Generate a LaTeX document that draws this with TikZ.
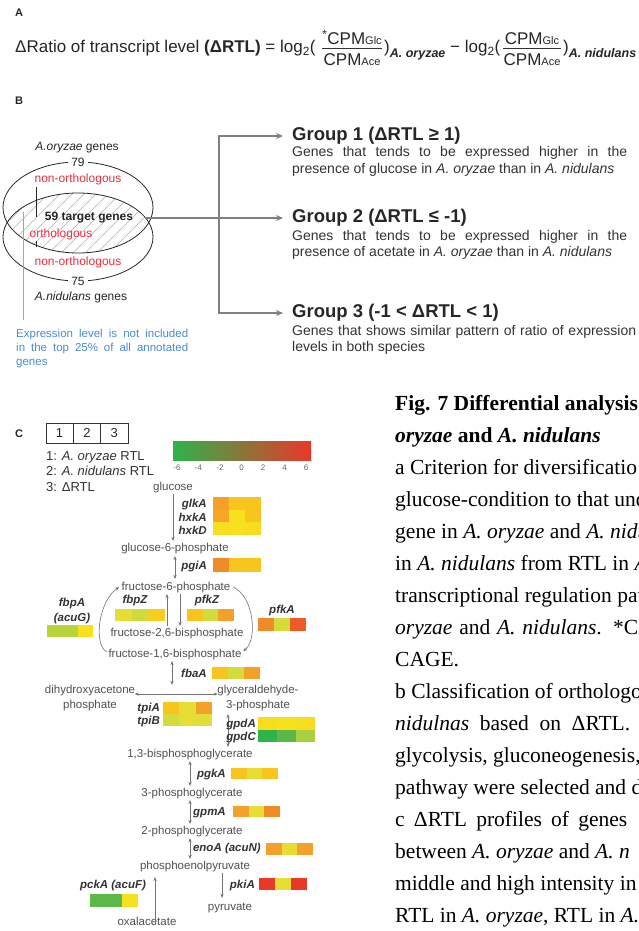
\documentclass[tikz,border=0pt]{standalone}
\usepackage{fontspec}
\setmainfont{Liberation Sans}
\newfontfamily\capfont{Liberation Serif}
\usetikzlibrary{arrows.meta,calc}
\newcommand{\fsz}[1]{\fontsize{#1}{#1}\selectfont}
\definecolor{hG}{HTML}{2DB34A}
\definecolor{hGa}{HTML}{5CB848}
\definecolor{hGb}{HTML}{A8D040}
\definecolor{hYG}{HTML}{B8D43A}
\definecolor{hYGb}{HTML}{D2DC3A}
\definecolor{hLY}{HTML}{E6DE34}
\definecolor{hY}{HTML}{F7E11E}
\definecolor{hYO}{HTML}{F8C41E}
\definecolor{hO}{HTML}{F5A02A}
\definecolor{hOb}{HTML}{F18A28}
\definecolor{hOR}{HTML}{EE5A28}
\definecolor{hR}{HTML}{E8382A}
\definecolor{txtred}{HTML}{E8303A}
\definecolor{txtblue}{HTML}{4A8CCB}
\definecolor{pathgray}{HTML}{505050}
\newcommand{\hmrow}[7]{%
  \fill[#5] (#1,#2) rectangle ++({#3/3},#4);
  \fill[#6] ({#1+#3/3},#2) rectangle ++({#3/3},#4);
  \fill[#7] ({#1+2*#3/3},#2) rectangle ++({#3/3},#4);}
\tikzset{
  lbl/.style={font=\fsz{11}\bfseries, text=black!85},
  frm/.style={font=\fsz{17}, text=black!85},
  venn/.style={font=\fsz{12}, text=black!85},
  vred/.style={font=\fsz{12}, text=txtred},
  ghead/.style={font=\fsz{18.5}\bfseries, text=black!85, anchor=west},
  gdesc/.style={font=\fsz{14}, text=black!80, anchor=base west},
  gline/.style={draw=black!50, line width=1.8pt},
  garrow/.style={draw=black!50, line width=1.8pt, -{Stealth[length=7pt,width=6pt]}},
  pathtxt/.style={font=\fsz{11.5}, text=pathgray, inner sep=1.5pt},
  gene/.style={font=\fsz{11.5}\bfseries\itshape, text=black!80, anchor=base east},
  pa/.style={draw=black!55, line width=0.6pt, -{Stealth[length=4pt,width=3.2pt]}},
  pab/.style={draw=black!55, line width=0.6pt, {Stealth[length=4pt,width=3.2pt]}-{Stealth[length=4pt,width=3.2pt]}},
  captxt/.style={font=\capfont\fsz{21.5}, text=black, anchor=base west},
  every node/.append style={inner sep=0pt}
}
\begin{document}
\begin{tikzpicture}[x=1pt,y=-1pt]
\useasboundingbox (0,0) rectangle (638,931);
\clip (0,0) rectangle (638,931);
\fill[white] (0,0) rectangle (638,931);

% ---------------- Panel A ----------------
\node[lbl, anchor=base west] (lA) at (15,17) {A};
\node[frm, anchor=base west] (fa) at (15,53) {ΔRatio of transcript level \textbf{(ΔRTL)} = log\textsubscript{2}(};
\node[frm, anchor=base] (n1) at (352,45) {\textsuperscript{*}CPM{\fsz{11}Glc}};
\node[frm, anchor=base] (d1) at (352,66) {CPM{\fsz{11}Ace}};
\draw[line width=0.7pt, black!80] (n1.south west |- 0,48.5) -- (n1.south east |- 0,48.5);
\node[frm, anchor=base west] (p1) at (384,53) {)\raisebox{-5pt}{\fsz{12.5}\bfseries\itshape A. oryzae}};
\node[frm, anchor=base west] (m1) at (450,53) {− log\textsubscript{2}(};
\node[frm, anchor=base] (n2) at (532,45) {CPM{\fsz{11}Glc}};
\node[frm, anchor=base] (d2) at (532,66) {CPM{\fsz{11}Ace}};
\draw[line width=0.7pt, black!80] (d2.south west |- 0,48.5) -- (d2.south east |- 0,48.5);
\node[frm, anchor=base west] (p2) at (563,53) {)\raisebox{-5pt}{\fsz{12.5}\bfseries\itshape A. nidulans}};

% ---------------- Panel B ----------------
\node[lbl, anchor=base west] (lB) at (15,105) {B};
\begin{scope}
  \clip (78,207.5) ellipse [x radius=75pt, y radius=45.5pt];
  \clip (78,237) ellipse [x radius=75pt, y radius=44pt];
  \foreach \k in {-120,-108,...,200} \draw[black!30, line width=0.5pt] (\k,290) -- ({\k+130},160);
\end{scope}
\draw[line width=0.8pt, black!85] (78,207.5) ellipse [x radius=75pt, y radius=45.5pt];
\draw[line width=0.8pt, black!85] (78,237) ellipse [x radius=75pt, y radius=44pt];
\node[venn, anchor=base] (aor) at (77,150) {\textit{A.oryzae} genes};
\node[venn, fill=white, inner xsep=3pt, inner ysep=1pt] (n79) at (78,162) {79};
\node[vred, anchor=base] (no1) at (78,182) {non-orthologous};
\node[venn, anchor=base, font=\fsz{12}\bfseries] (tg59) at (89,220) {59 target genes};
\node[vred, anchor=base] (orth) at (61,237) {orthologous};
\node[vred, anchor=base] (no2) at (78,265) {non-orthologous};
\node[venn, fill=white, inner xsep=3pt, inner ysep=1pt] (n75) at (78,281) {75};
\node[venn, anchor=base] (ani) at (81,300) {\textit{A.nidulans} genes};
\draw[line width=0.8pt, black!85] (36,187) -- (36,217);
\draw[line width=0.8pt, black!85] (36,241) -- (36,247);
\draw[line width=0.6pt, txtblue!70] (23,212) -- (23,320);
\node[anchor=base west, font=\fsz{11.5}, text=txtblue] (bl1) at (16,337) {\makebox[172pt][s]{Expression level is not included}};
\node[anchor=base west, font=\fsz{11.5}, text=txtblue] (bl2) at (16,351) {\makebox[172pt][s]{in the top 25\% of all annotated}};
\node[anchor=base west, font=\fsz{11.5}, text=txtblue] (bl3) at (16,365) {genes};

\node[ghead] (g1) at (292,136) {Group 1 (ΔRTL ≥ 1)};
\node[gdesc] (g1a) at (292,157) {\makebox[335pt][s]{Genes that tends to be expressed higher in the}};
\node[gdesc] (g1b) at (292,173) {presence of glucose in \textit{A. oryzae} than in \textit{A. nidulans}};
\node[ghead] (g2) at (292,218) {Group 2 (ΔRTL ≤ -1)};
\node[gdesc] (g2a) at (292,240) {\makebox[335pt][s]{Genes that tends to be expressed higher in the}};
\node[gdesc] (g2b) at (292,256) {presence of acetate in \textit{A. oryzae} than in \textit{A. nidulans}};
\node[ghead] (g3) at (292,313) {Group 3 (-1 < ΔRTL < 1)};
\node[gdesc] (g3a) at (292,335) {\makebox[344pt][s]{Genes that shows similar pattern of ratio of expression}};
\node[gdesc] (g3b) at (292,351) {levels in both species};

\coordinate (tg) at (145,218);
\coordinate (j1) at (219,136);
\coordinate (j2) at (219,218);
\coordinate (j3) at (219,313);
\draw[gline] (tg) -- (j2);
\draw[gline, line cap=rect] (j1) -- (j3);
\draw[garrow] (j1) -- ([xshift=-9pt]g1.west);
\draw[garrow] (j2) -- ([xshift=-9pt]g2.west);
\draw[garrow] (j3) -- ([xshift=-9pt]g3.west);

% ---------------- Panel C ----------------
\node[lbl, anchor=base west] (lC) at (15,437) {C};
\draw[line width=0.7pt, black!80] (46,423) rectangle (128,443);
\draw[line width=0.7pt, black!80] (73.3,423) -- (73.3,443);
\draw[line width=0.7pt, black!80] (100.6,423) -- (100.6,443);
\node[font=\fsz{13}, text=black!85] (c1) at (59.6,433) {1};
\node[font=\fsz{13}, text=black!85] (c2) at (87,433) {2};
\node[font=\fsz{13}, text=black!85] (c3) at (114.3,433) {3};
\node[anchor=base west, font=\fsz{13}, text=black!80] (lg1) at (46,460) {1: \textit{A. oryzae} RTL};
\node[anchor=base west, font=\fsz{13}, text=black!80] (lg2) at (46,475.5) {2: \textit{A. nidulans} RTL};
\node[anchor=base west, font=\fsz{13}, text=black!80] (lg3) at (46,491) {3: ΔRTL};

\shade[left color=hG, middle color=hY, right color=hR] (173,441) rectangle (311,460);
\foreach \v [count=\i from 0] in {-6,-4,-2,0,2,4,6}
  \node[font=\fsz{8}, text=black!60] (tick\i) at ({177+21.5*\i},467.5) {\v};

% pathway nodes
\node[pathtxt, anchor=base] (glc) at (173,490) {glucose};
\node[pathtxt, anchor=base] (g6p) at (175,551) {glucose-6-phosphate};
\node[pathtxt, anchor=base] (f6p) at (176,590) {fructose-6-phosphate};
\node[pathtxt, anchor=base] (f26) at (177,636) {fructose-2,6-bisphosphate};
\node[pathtxt, anchor=base] (f16) at (175,657) {fructose-1,6-bisphosphate};
\node[pathtxt, anchor=base, align=center] (dhap) at (90,708) {dihydroxyacetone\\[3.5pt]phosphate};
\node[pathtxt, anchor=base, align=center] (gap) at (258,708) {glyceraldehyde-\\[3.5pt]3-phosphate};
\node[pathtxt, anchor=base] (bpg) at (190,757) {1,3-bisphosphoglycerate};
\node[pathtxt, anchor=base] (pg3) at (192,796) {3-phosphoglycerate};
\node[pathtxt, anchor=base] (pg2) at (192,834) {2-phosphoglycerate};
\node[pathtxt, anchor=base] (pep) at (195,869) {phosphoenolpyruvate};
\node[pathtxt, anchor=base] (pyr) at (230,910) {pyruvate};
\node[pathtxt, anchor=base] (oaa) at (147,925) {oxalacetate};

% arrows
\draw[pa] (glc.south) -- (glc.south |- g6p.north);
\draw[pab] ([yshift=-1pt]g6p.south) -- ([yshift=1pt]g6p.south |- f6p.north);
\draw[pa] ([xshift=4pt]f6p.south) -- ([xshift=4pt]f6p.south |- f26.north);
\draw[pa] ([xshift=-10pt]f26.north) -- ([xshift=-10pt]f26.north |- f6p.south);
\draw[pa] ([yshift=2pt]f16.west) .. controls +(-14,-8) and +(-20,14) .. ([xshift=-1pt]f6p.west);
\draw[pa] ([xshift=1pt]f6p.east) .. controls +(22,10) and +(14,-10) .. ([yshift=3pt]f16.east);
\draw[pab] ([xshift=-3pt]f16.south) -- ([xshift=-3pt, yshift=-2pt]f16.south |- dhap.north);
\draw[pab] ([xshift=-2pt]dhap.north east |- 0,694) -- ([xshift=2pt]gap.north west |- 0,694);
\draw[pab] ([xshift=-30pt,yshift=-2pt]gap.south) -- ([xshift=-30pt]gap.south |- bpg.north);
\draw[pab] (bpg.south) -- (bpg.south |- pg3.north);
\draw[pab] ([xshift=-2pt]pg3.south) -- ([xshift=-2pt]pg3.south |- pg2.north);
\draw[pab] ([xshift=-2pt]pg2.south) -- ([xshift=-2pt]pg2.south |- pep.north);
\draw[pa] ([xshift=27pt]pep.south) -- ([xshift=27pt, yshift=3pt]pep.south |- pyr.north);
\draw[pa] ([xshift=8pt,yshift=-10pt]oaa.north) -- ([xshift=8pt, yshift=-4pt]oaa.north |- pep.south);

% gene labels
\node[gene] (glkA) at (207,507) {glkA};
\node[gene] (hxkA) at (207,521) {hxkA};
\node[gene] (hxkD) at (207,534) {hxkD};
\node[gene] (pgiA) at (207,569) {pgiA};
\node[gene, anchor=base] (fbpZ) at (135,603) {fbpZ};
\node[gene, anchor=base] (pfkZ) at (207,603) {pfkZ};
\node[gene, anchor=base] (fbpA) at (72,606) {fbpA};
\node[gene, anchor=base] (acuG) at (72,621) {(acuG)};
\node[gene, anchor=base] (pfkA) at (282,613) {pfkA};
\node[gene] (fbaA) at (207,677) {fbaA};
\node[gene] (tpiA) at (160,711) {tpiA};
\node[gene] (tpiB) at (160,724) {tpiB};
\node[gene] (gpdA) at (256,727) {gpdA};
\node[gene] (gpdC) at (256,740) {gpdC};
\node[gene] (pgkA) at (226,777) {pgkA};
\node[gene] (gpmA) at (226,815) {gpmA};
\node[gene] (enoA) at (261,851) {enoA (acuN)};
\node[gene] (pkiA) at (255,888) {pkiA};
\node[gene, anchor=base] (pckA) at (113,888) {pckA (acuF)};

% heatmaps
\hmrow{213}{497}{48}{12.7}{hO}{hYO}{hYO}
\hmrow{213}{509.7}{48}{12.7}{hO!80!hYO}{hY}{hYO}
\hmrow{213}{522.4}{48}{12.6}{hY!90!hYO}{hY}{hY!85!hYO}
\hmrow{213}{558}{48}{14}{hOb}{hYO}{hYO}
\hmrow{115}{609}{50}{12}{hLY}{hYGb!85!hYG}{hYO!70!hY}
\hmrow{187}{609}{47}{12}{hYO}{hYGb}{hO}
\hmrow{47}{625}{46}{12}{hYG}{hYG}{hY}
\hmrow{258}{618}{48}{13}{hOb}{hYGb}{hOR}
\hmrow{212}{667}{48}{11.5}{hYO}{hYGb}{hO}
\hmrow{163}{702}{49}{12}{hYO}{hLY}{hO}
\hmrow{163}{714}{49}{12}{hYGb}{hLY}{hLY!80!hYGb}
\hmrow{258}{717}{57}{12.5}{hY!85!hYO}{hY}{hY!85!hYO}
\hmrow{258}{729.5}{57}{12.5}{hG}{hGa}{hGb}
\hmrow{231}{768}{47}{11}{hYO}{hLY}{hYO}
\hmrow{233}{806}{47}{11}{hO}{hLY}{hOb}
\hmrow{266}{843}{47}{12}{hO}{hLY}{hO}
\hmrow{259}{878}{48}{12}{hR}{hLY}{hR}
\hmrow{90}{894}{48}{13}{hGa}{hGa}{hY}

% ---------------- Caption ----------------
\node[captxt] (cp0) at (395,410) {\textbf{Fig. 7 Differential analysis}};
\node[captxt] (cp1) at (395,442) {\textbf{\textit{oryzae} and \textit{A. nidulans}}};
\node[captxt] (cp2) at (395,474) {a Criterion for diversificatio};
\node[captxt] (cp3) at (395,506) {glucose-condition to that und};
\node[captxt] (cp4) at (395,538) {gene in \textit{A. oryzae} and \textit{A. nidu}};
\node[captxt] (cp5) at (395,570) {in \textit{A. nidulans} from RTL in \textit{A}};
\node[captxt] (cp6) at (395,602) {transcriptional regulation pat};
\node[captxt] (cp7) at (395,634) {\makebox[243pt][s]{\textit{oryzae} and \textit{A. nidulans}. *C}};
\node[captxt] (cp8) at (395,666) {CAGE.};
\node[captxt] (cp9) at (395,698) {b Classification of orthologo};
\node[captxt] (cp10) at (395,730) {\makebox[235pt][s]{\textit{nidulnas} based on ΔRTL.}};
\node[captxt] (cp11) at (395,762) {glycolysis, gluconeogenesis,};
\node[captxt] (cp12) at (395,794) {pathway were selected and d};
\node[captxt] (cp13) at (395,826) {\makebox[232pt][s]{c ΔRTL profiles of genes}};
\node[captxt] (cp14) at (395,858) {between \textit{A. oryzae} and \textit{A. n}};
\node[captxt] (cp15) at (395,890) {middle and high intensity in};
\node[captxt] (cp16) at (395,922) {RTL in \textit{A. oryzae}, RTL in \textit{A.}};
\end{tikzpicture}
\end{document}
